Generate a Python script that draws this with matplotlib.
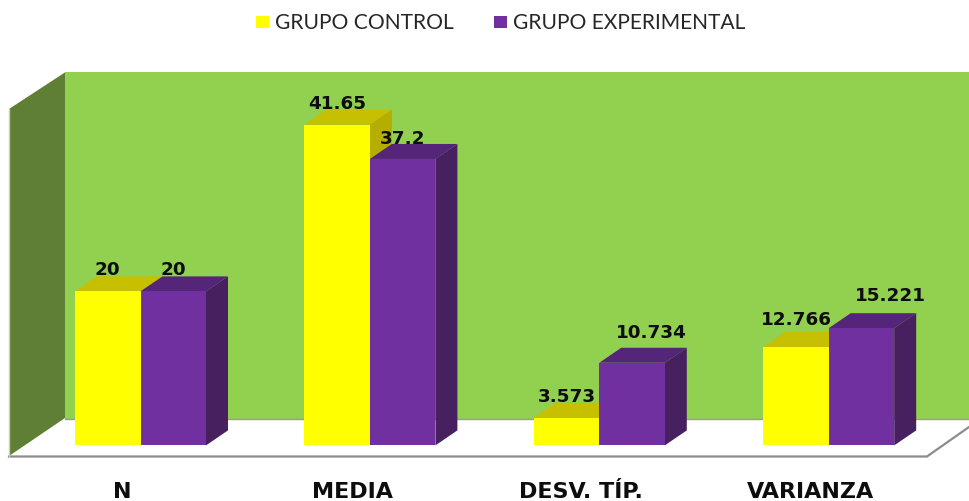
import matplotlib
matplotlib.use("Agg")
import matplotlib.pyplot as plt
from matplotlib.patches import Polygon, Rectangle
from matplotlib.transforms import Affine2D

categories = ["N", "MEDIA", "DESV. TÍP.", "VARIANZA"]
series_names = ["GRUPO CONTROL", "GRUPO EXPERIMENTAL"]
control = [20, 41.65, 3.573, 12.766]
experimental = [20, 37.2, 10.734, 15.221]
control_labels = ["20", "41.65", "3.573", "12.766"]
experimental_labels = ["20", "37.2", "10.734", "15.221"]

# label nudges in pixels (x, y above the bar's front top edge)
control_nudge = [(0, 17), (0, 17), (0, 17), (0, 23)]
experimental_nudge = [(0, 17), (0, 16), (19, 26), (29, 28)]
category_nudge = [-18, -17, -18, -18]

W, H = 969, 502
PX_X = 229.4      # pixels per category
PX_Y = 7.7        # pixels per unit of value
X0, Y0 = 140.5, 446.4  # pixel position of category 0, value 0
BAR_W = 65.5 / PX_X
DX, DY = 22 / PX_X, 15 / PX_Y

fig = plt.figure(figsize=(W / 100, H / 100), dpi=100, facecolor="white")
ax = fig.add_axes([0, 0, 1, 1])
ax.set_xlim(-X0 / PX_X, (W - X0) / PX_X)
ax.set_ylim((Y0 - H) / PX_Y, Y0 / PX_Y)
ax.axis("off")

# pixel transform, y pointing down, for the chart furniture
px = Affine2D().scale(1, -1).translate(0, H)

# floor
ax.add_patch(Polygon([(65, 420), (969, 420), (969, 428), (927, 457), (9, 457)],
                     closed=True, transform=px, fc="white", ec="none", zorder=1))
ax.plot([9, 927, 969], [457.5, 457.5, 428], transform=px, color="#8c8c8c", lw=1.6, zorder=1.5)
# back wall
ax.add_patch(Polygon([(65, 73.4), (969, 73.4), (969, 419.5), (65, 419.5)], closed=True,
                     transform=px, fc="#92D050", ec="none", zorder=1))
ax.plot([65, 969], [420, 420], transform=px, color="#9a9a9a", lw=1.0, zorder=1.5)
# side wall
ax.add_patch(Polygon([(9, 110), (65, 73.4), (65, 419), (9, 457)], closed=True,
                     transform=px, fc="#5F7F35", ec="none", zorder=2))
ax.plot([9, 9], [110, 457], transform=px, color="#c4d2b0", lw=1.0, zorder=2)


def bar3d(x, v, front, top, side, z):
    ax.bar(x, v, width=BAR_W, align="edge", color=front, linewidth=0, zorder=z + 0.2)
    ax.add_patch(Polygon([(x, v), (x + DX, v + DY), (x + BAR_W + DX, v + DY), (x + BAR_W, v)],
                         closed=True, fc=top, ec="none", zorder=z))
    ax.add_patch(Polygon([(x + BAR_W, 0), (x + BAR_W + DX, DY), (x + BAR_W + DX, v + DY), (x + BAR_W, v)],
                         closed=True, fc=side, ec="none", zorder=z))


vfont = dict(family="DejaVu Sans", fontsize=13.2, fontweight="bold", color="#0d0d0d",
             ha="center", va="baseline", zorder=10)
for i, cat in enumerate(categories):
    bar3d(i - BAR_W, control[i], "#FFFF00", "#C6C000", "#B5AD00", 3)
    bar3d(i, experimental[i], "#7030A0", "#542578", "#472060", 4)
    nx, ny = control_nudge[i]
    ax.text(i - BAR_W / 2 + nx / PX_X, control[i] + ny / PX_Y, control_labels[i], **vfont)
    nx, ny = experimental_nudge[i]
    ax.text(i + BAR_W / 2 + nx / PX_X, experimental[i] + ny / PX_Y, experimental_labels[i], **vfont)
    ax.text(i + category_nudge[i] / PX_X, (Y0 - 498.5) / PX_Y, cat,
            family="DejaVu Sans", fontsize=16, fontweight="bold", color="#0d0d0d",
            ha="center", va="baseline", zorder=10)

# legend
ax.add_patch(Rectangle((256, 17), 13, 11.5, transform=px, fc="#FFFF00", ec="none", zorder=5))
ax.add_patch(Rectangle((494, 17), 13, 11.5, transform=px, fc="#7030A0", ec="none", zorder=5))
lfont = dict(family="Lato", fontsize=15.1, color="#262626", va="baseline", ha="left", transform=px)
ax.text(275, 29, series_names[0], **lfont)
ax.text(513, 29, series_names[1], **lfont)

fig.savefig("out.png", dpi=100, facecolor="white")
